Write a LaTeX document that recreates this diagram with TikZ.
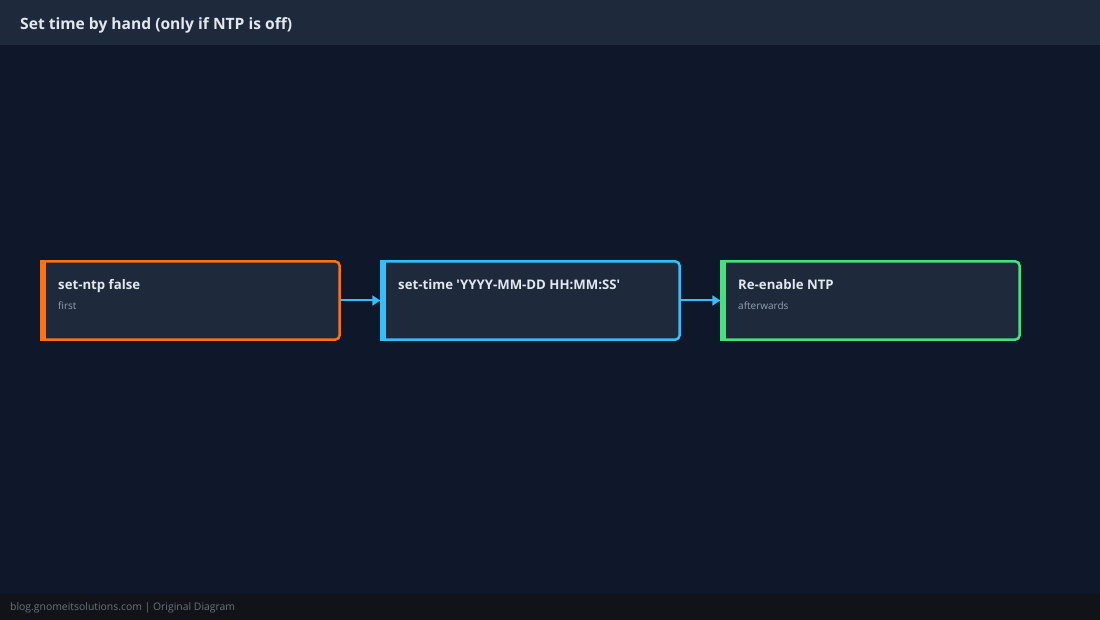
\documentclass[tikz,border=0pt]{standalone}
\usepackage{fontspec}
\setmainfont{Open Sans}[Ligatures=TeXOff]
\usetikzlibrary{arrows.meta}
\definecolor{bg}{HTML}{0F172A}
\definecolor{panel}{HTML}{1E293B}
\definecolor{foot}{HTML}{111318}
\definecolor{txt}{HTML}{E2E8F0}
\definecolor{sub}{HTML}{94A3B8}
\definecolor{foottxt}{HTML}{6B7280}
\definecolor{cOrange}{HTML}{F97316}
\definecolor{cBlue}{HTML}{38BDF8}
\definecolor{cGreen}{HTML}{4ADE80}
\tikzset{
  stepbox/.style={draw=#1, fill=panel, line width=2.5pt, rounded corners=4pt,
    minimum width=298pt, minimum height=78pt, inner sep=0pt},
  ttl/.style={anchor=base west, inner sep=0pt, text=txt, font=\fontsize{13.2}{15}\selectfont\bfseries},
  subt/.style={anchor=base west, inner sep=0pt, text=sub, font=\fontsize{10}{12}\selectfont},
  arr/.style={draw=cBlue, line width=2pt, -{Triangle[width=10pt,length=8pt]}},
}
\begin{document}
\begin{tikzpicture}[x=1pt,y=-1pt]
\useasboundingbox (0,0) rectangle (1100,620);
\fill[bg] (0,0) rectangle (1100,620);
\fill[panel] (0,0) rectangle (1100,45);
\fill[foot] (0,594) rectangle (1100,620);
\node[anchor=base west, inner sep=0pt, text=txt, font=\fontsize{15.6}{18}\selectfont\bfseries] (title) at (20,29.5) {Set time by hand (only if NTP is off)};
\node[anchor=base west, inner sep=0pt, text=foottxt, font=\fontsize{10.4}{12}\selectfont] (footer) at (10,610) {blog.gnomeitsolutions.com | Original Diagram};

\node[stepbox=cOrange] (b1) at (190.5,300.5) {};
\node[stepbox=cBlue] (b2) at (530.5,300.5) {};
\node[stepbox=cGreen] (b3) at (870.5,300.5) {};
\foreach \b/\c in {b1/cOrange,b2/cBlue,b3/cGreen}{
  \fill[\c] (\b.north west) rectangle ([xshift=6pt]\b.south west);
}
\node[ttl] (t1) at (58,290) {set-ntp false};
\node[subt] (s1) at (58,309.5) {first};
\node[ttl] (t2) at (398,290) {set-time 'YYYY-MM-DD HH:MM:SS'};
\node[ttl] (t3) at (738,290) {Re-enable NTP};
\node[subt] (s3) at (738,309.5) {afterwards};

\draw[arr] (b1.east) -- (b2.west);
\draw[arr] (b2.east) -- (b3.west);
\end{tikzpicture}
\end{document}
